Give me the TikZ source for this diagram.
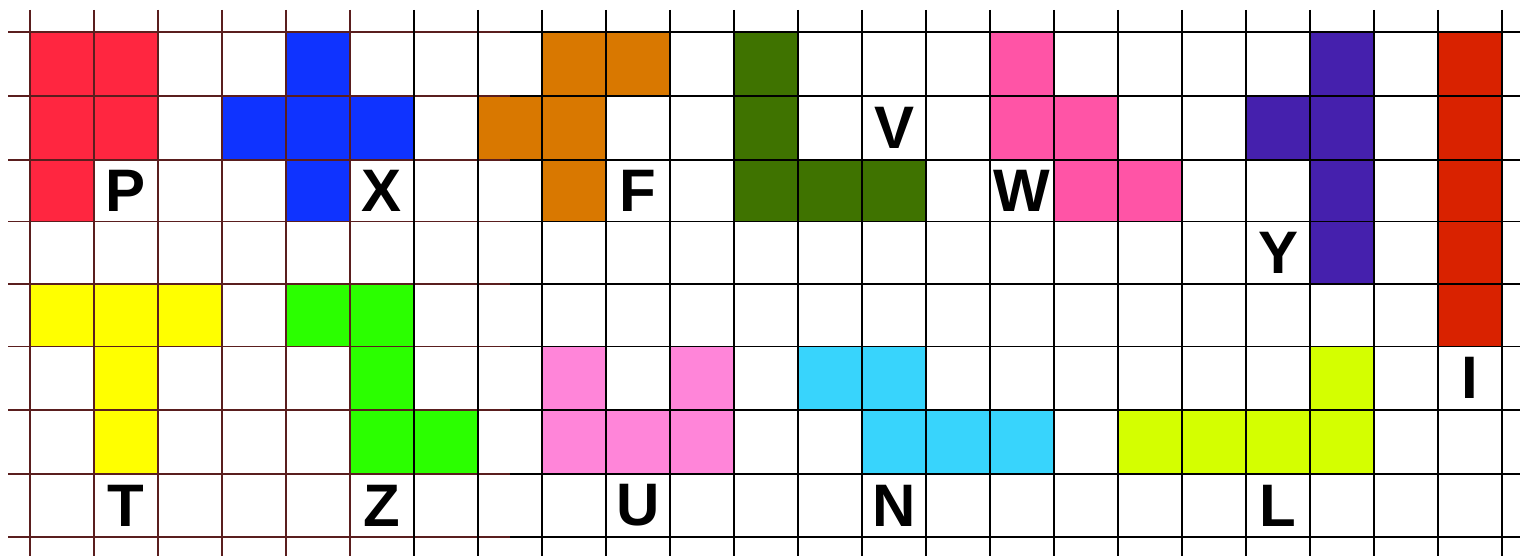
\documentclass[tikz,border=0pt]{standalone}
\usepackage{fontspec}
\setmainfont{Liberation Sans}
\definecolor{cP}{HTML}{FF2640}
\definecolor{cX}{HTML}{0F33FF}
\definecolor{cF}{HTML}{D97800}
\definecolor{cV}{HTML}{3F7300}
\definecolor{cW}{HTML}{FF54A6}
\definecolor{cY}{HTML}{4520AD}
\definecolor{cI}{HTML}{D92200}
\definecolor{cT}{HTML}{FFFF00}
\definecolor{cZ}{HTML}{2BFF00}
\definecolor{cU}{HTML}{FF85D9}
\definecolor{cN}{HTML}{38D4FC}
\definecolor{cL}{HTML}{D4FF00}
\definecolor{brownline}{HTML}{5A1E1E}
\tikzset{
  gridbrown/.style={draw=brownline, line width=1.6pt},
  gridblack/.style={draw=black, line width=1.6pt},
  lab/.style={font=\fontsize{60}{60}\bfseries\selectfont, text=black, inner sep=0pt},
}
\newcommand\pcell[3]{%
  \pgfmathsetmacro\xa{30+64*#1}%
  \pgfmathsetmacro\xb{94+64*#1}%
  \pgfmathsetmacro\ya{{32,96,160,221.5,284,346.5,410,474,537}[#2]}%
  \pgfmathsetmacro\yb{{32,96,160,221.5,284,346.5,410,474,537}[#2+1]}%
  \fill[#3] (\xa,\ya) rectangle (\xb,\yb);}
\newcommand\plabel[4]{%
  \pgfmathsetmacro\xa{62+64*#2}%
  \pgfmathsetmacro\ya{{32,96,160,221.5,284,346.5,410,474,537}[#3]}%
  \pgfmathsetmacro\yb{{32,96,160,221.5,284,346.5,410,474,537}[#3+1]}%
  \pgfmathsetmacro\ym{(\ya+\yb)/2}%
  \node[lab] (#1) at (\xa,\ym) {#4};}
\begin{document}
\begin{tikzpicture}[x=1pt,y=-1pt]
\useasboundingbox (0,0) rectangle (1520,556);
\fill[white] (0,0) rectangle (1520,556);
% P
\foreach \c/\r in {0/0,1/0,0/1,1/1,0/2} {\pcell{\c}{\r}{cP}}
% X
\foreach \c/\r in {4/0,3/1,4/1,5/1,4/2} {\pcell{\c}{\r}{cX}}
% F
\foreach \c/\r in {8/0,9/0,7/1,8/1,8/2} {\pcell{\c}{\r}{cF}}
% V
\foreach \c/\r in {11/0,11/1,11/2,12/2,13/2} {\pcell{\c}{\r}{cV}}
% W
\foreach \c/\r in {15/0,15/1,16/1,16/2,17/2} {\pcell{\c}{\r}{cW}}
% Y
\foreach \c/\r in {20/0,19/1,20/1,20/2,20/3} {\pcell{\c}{\r}{cY}}
% I
\foreach \c/\r in {22/0,22/1,22/2,22/3,22/4} {\pcell{\c}{\r}{cI}}
% T
\foreach \c/\r in {0/4,1/4,2/4,1/5,1/6} {\pcell{\c}{\r}{cT}}
% Z
\foreach \c/\r in {4/4,5/4,5/5,5/6,6/6} {\pcell{\c}{\r}{cZ}}
% U
\foreach \c/\r in {8/5,10/5,8/6,9/6,10/6} {\pcell{\c}{\r}{cU}}
% N
\foreach \c/\r in {12/5,13/5,13/6,14/6,15/6} {\pcell{\c}{\r}{cN}}
% L
\foreach \c/\r in {20/5,17/6,18/6,19/6,20/6} {\pcell{\c}{\r}{cL}}
% grid
\foreach \y in {32,96,160,221.5,284,346.5,410,474,537} {
  \draw[gridbrown] (8,\y) -- (510,\y);
  \draw[gridblack] (510,\y) -- (1520,\y);
}
\foreach \k in {0,...,5} {\draw[gridbrown] ({30+64*\k},10) -- ({30+64*\k},556);}
\foreach \k in {6,...,23} {\draw[gridblack] ({30+64*\k},10) -- ({30+64*\k},556);}
% labels
\plabel{labP}{1}{2}{P}
\plabel{labX}{5}{2}{X}
\plabel{labF}{9}{2}{F}
\plabel{labV}{13}{1}{V}
\plabel{labW}{15}{2}{W}
\plabel{labY}{19}{3}{Y}
\plabel{labI}{22}{5}{I}
\plabel{labT}{1}{7}{T}
\plabel{labZ}{5}{7}{Z}
\plabel{labU}{9}{7}{U}
\plabel{labN}{13}{7}{N}
\plabel{labL}{19}{7}{L}
\end{tikzpicture}
\end{document}
